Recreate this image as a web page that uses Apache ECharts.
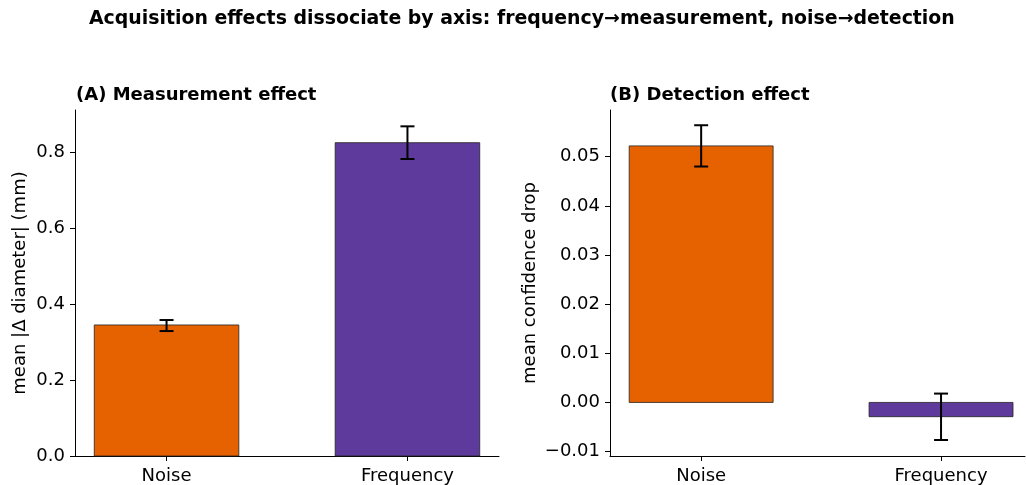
<!DOCTYPE html>
<html lang="en">
<head>
    <meta charset="UTF-8">
    <title>Acquisition effects</title>
    <script src="https://cdn.jsdelivr.net/npm/echarts@6/dist/echarts.min.js"></script>
    <style>
        html, body { margin: 0; padding: 0; background: #fff; }
        #chart { width: 1026px; height: 485px; }
    </style>
</head>
<body>
    <div id="chart"></div>
    <script>
        // data
        var categories = ['Noise', 'Frequency'];
        var barColors = ['#e66100', '#5d3a9b'];

        var measMean = [0.345, 0.825];
        var measLo = [0.329, 0.782];
        var measHi = [0.358, 0.868];

        var detMean = [0.0522, -0.0029];
        var detLo = [0.0480, -0.00765];
        var detHi = [0.0564, 0.0018];

        var measTicks = [0, 0.2, 0.4, 0.6, 0.8];
        var detTicks = [-0.01, 0, 0.01, 0.02, 0.03, 0.04, 0.05];

        var font = "'DejaVu Sans', sans-serif";

        function rows(mean, lo, hi) {
            return categories.map(function (c, i) { return [i, mean[i], lo[i], hi[i]]; });
        }

        function renderBar(params, api) {
            var x = api.value(0), v = api.value(1);
            var p0 = api.coord([x - 0.3, 0]);
            var p1 = api.coord([x + 0.3, v]);
            return {
                type: 'rect',
                shape: {
                    x: Math.min(p0[0], p1[0]),
                    y: Math.min(p0[1], p1[1]),
                    width: Math.abs(p1[0] - p0[0]),
                    height: Math.abs(p1[1] - p0[1])
                },
                style: { fill: barColors[params.dataIndex], stroke: '#222', lineWidth: 0.8 }
            };
        }

        function renderErr(params, api) {
            var x = api.value(0);
            var top = api.coord([x, api.value(3)]);
            var bot = api.coord([x, api.value(2)]);
            var st = { stroke: '#000', lineWidth: 2 };
            return {
                type: 'group',
                children: [
                    { type: 'line', shape: { x1: top[0], y1: top[1], x2: bot[0], y2: bot[1] }, style: st },
                    { type: 'line', shape: { x1: top[0] - 7, y1: top[1], x2: top[0] + 7, y2: top[1] }, style: st },
                    { type: 'line', shape: { x1: bot[0] - 7, y1: bot[1], x2: bot[0] + 7, y2: bot[1] }, style: st }
                ]
            };
        }

        function xAxisFor(idx, max) {
            return {
                type: 'value', gridIndex: idx, min: -0.38, max: max,
                splitLine: { show: false },
                axisLine: { onZero: false, lineStyle: { color: '#000', width: 1 } },
                axisTick: { customValues: [0, 1], length: 5, lineStyle: { color: '#000' } },
                axisLabel: {
                    customValues: [0, 1], margin: 11, color: '#000', fontSize: 18, fontFamily: font,
                    formatter: function (v) { return categories[Math.round(v)]; }
                }
            };
        }

        function yAxisFor(idx, min, max, ticks, digits, name, gap) {
            return {
                type: 'value', gridIndex: idx, min: min, max: max,
                name: name, nameLocation: 'middle', nameGap: gap,
                nameTextStyle: { color: '#000', fontSize: 18, fontFamily: font },
                splitLine: { show: false },
                axisLine: { show: true, onZero: false, lineStyle: { color: '#000', width: 1 } },
                axisTick: { show: true, customValues: ticks, length: 5, lineStyle: { color: '#000' } },
                axisLabel: {
                    customValues: ticks, margin: 10, color: '#000', fontSize: 18, fontFamily: font,
                    formatter: function (v) {
                        var s = Math.abs(v).toFixed(digits);
                        return v < -1e-9 ? '\u2212' + s : s;
                    }
                }
            };
        }

        var chart = echarts.init(document.getElementById('chart'));
        chart.setOption({
            animation: false,
            backgroundColor: '#fff',
            title: [
                { text: 'Acquisition effects dissociate by axis: frequency\u2192measurement, noise\u2192detection',
                  left: 84, top: 5,
                  textStyle: { fontSize: 18.9, fontWeight: 'bold', fontFamily: font, color: '#000' } },
                { text: '(A) Measurement effect', left: 71, top: 81,
                  textStyle: { fontSize: 18, fontWeight: 'bold', fontFamily: font, color: '#000' } },
                { text: '(B) Detection effect', left: 605, top: 81,
                  textStyle: { fontSize: 18, fontWeight: 'bold', fontFamily: font, color: '#000' } }
            ],
            grid: [
                { left: 75, width: 424, top: 110, bottom: 28 },
                { left: 610, width: 415, top: 110, bottom: 28 }
            ],
            // right panel is cut by the image edge, so its visible x range ends earlier
            xAxis: [xAxisFor(0, 1.38), xAxisFor(1, 1.35)],
            yAxis: [
                yAxisFor(0, 0, 0.911, measTicks, 1, 'mean |\u0394 diameter| (mm)', 46),
                yAxisFor(1, -0.0109, 0.0595, detTicks, 2, 'mean confidence drop', 71)
            ],
            series: [
                { type: 'custom', xAxisIndex: 0, yAxisIndex: 0, data: rows(measMean, measLo, measHi),
                  encode: { x: 0, y: 1 }, renderItem: renderBar },
                { type: 'custom', xAxisIndex: 0, yAxisIndex: 0, data: rows(measMean, measLo, measHi),
                  encode: { x: 0, y: [2, 3] }, renderItem: renderErr, z: 3 },
                { type: 'custom', xAxisIndex: 1, yAxisIndex: 1, data: rows(detMean, detLo, detHi),
                  encode: { x: 0, y: 1 }, renderItem: renderBar },
                { type: 'custom', xAxisIndex: 1, yAxisIndex: 1, data: rows(detMean, detLo, detHi),
                  encode: { x: 0, y: [2, 3] }, renderItem: renderErr, z: 3 }
            ]
        });
    </script>
</body>
</html>
